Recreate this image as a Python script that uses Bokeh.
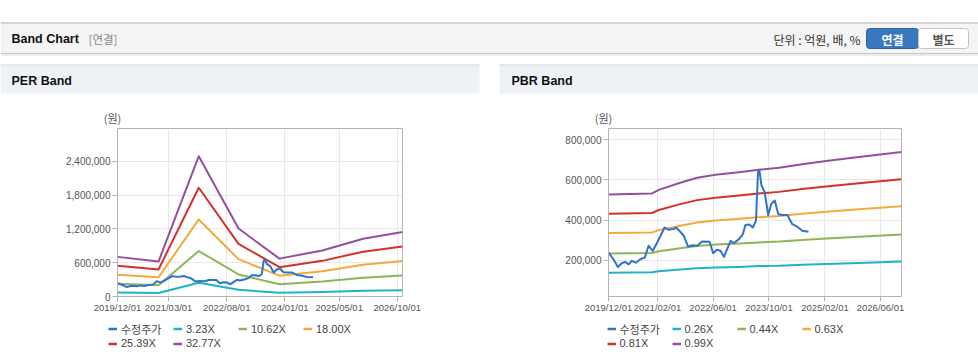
import pandas as pd
from bokeh.plotting import figure
from bokeh.layouts import row, column
from bokeh.models import (Range1d, FixedTicker, DatetimeTickFormatter, NumeralTickFormatter,
                          Label, BoxAnnotation, Legend, LegendItem, ColumnDataSource)
from bokeh.embed import file_html
from bokeh.resources import INLINE

# ---------------- data ----------------
SERIES_NAMES_PER = ["수정주가", "3.23X", "10.62X", "18.00X", "25.39X", "32.77X"]
SERIES_NAMES_PBR = ["수정주가", "0.26X", "0.44X", "0.63X", "0.81X", "0.99X"]

PRICE_DATES = ["2019-12-01", "2020-01-13", "2020-02-21", "2020-03-25", "2020-04-25", "2020-05-25",
               "2020-06-21", "2020-07-28", "2020-09-03", "2020-10-13", "2020-11-15", "2020-12-21",
               "2021-02-06", "2021-04-03", "2021-05-06", "2021-06-21", "2021-07-13", "2021-08-18",
               "2021-09-18", "2021-10-25", "2021-12-01", "2022-01-13", "2022-02-25", "2022-05-01",
               "2022-06-01", "2022-07-04", "2022-08-04", "2022-09-04", "2022-10-01", "2022-11-01",
               "2022-11-28", "2023-01-13", "2023-02-15", "2023-03-10", "2023-04-13", "2023-05-13",
               "2023-06-10", "2023-06-28", "2023-07-10", "2023-07-28", "2023-08-25", "2023-09-25",
               "2023-10-21", "2023-11-21", "2023-12-21", "2024-01-25", "2024-03-10", "2024-04-21",
               "2024-06-04", "2024-07-18", "2024-09-10"]
PRICE_VALUES = [238000, 205000, 167000, 185000, 192000, 180000, 197000, 188000, 205000, 213000,
                272000, 247000, 297000, 363000, 352000, 355000, 363000, 342000, 322000, 268000,
                275000, 272000, 293000, 292000, 235000, 252000, 247000, 217000, 255000, 297000,
                285000, 305000, 330000, 375000, 378000, 363000, 397000, 638000, 647000, 572000,
                538000, 425000, 480000, 497000, 430000, 425000, 425000, 380000, 367000, 347000,
                342000]

PER_BAND_DATES = ["2019-12-01", "2020-12-01", "2021-11-25", "2022-11-15", "2023-11-15",
                  "2024-12-01", "2025-12-01", "2026-11-17"]
PER_323 = [69300, 61000, 245300, 118900, 66200, 80400, 101100, 112700]
PER_1062 = [227800, 200700, 806600, 390800, 217700, 264400, 332400, 370600]
PER_1800 = [386100, 340200, 1367100, 662400, 369000, 448200, 563400, 628200]
PER_2539 = [544600, 479900, 1928400, 934400, 520500, 632200, 794700, 886100]
PER_3277 = [702900, 619400, 2488900, 1205900, 671800, 816000, 1025700, 1143700]

PBR_BAND_DATES = ["2019-12-01", "2020-12-15", "2021-02-12", "2021-08-18", "2022-01-13",
                  "2022-06-21", "2023-01-13", "2023-07-04", "2023-12-28", "2024-07-18",
                  "2025-02-10", "2025-11-25", "2026-12-01"]
PBR_026 = [138000, 140000, 145000, 154000, 160000, 164000, 167000, 171000, 173000, 178000, 182000, 187000, 194000]
PBR_044 = [234000, 236000, 245000, 260000, 271000, 278000, 283000, 289000, 293000, 301000, 308000, 317000, 328000]
PBR_063 = [335000, 338000, 350000, 372000, 388000, 398000, 406000, 414000, 420000, 431000, 441000, 454000, 469000]
PBR_081 = [431000, 435000, 450000, 479000, 499000, 511000, 522000, 532000, 540000, 554000, 567000, 583000, 603000]
PBR_099 = [527000, 532000, 550000, 585000, 610000, 625000, 638000, 650000, 660000, 677000, 693000, 713000, 738000]

PER_X_TICKS = ["2019/12/01", "2021/03/01", "2022/08/01", "2024/01/01", "2025/05/01", "2026/10/01"]
PBR_X_TICKS = ["2019/12/01", "2021/02/01", "2022/06/01", "2023/10/01", "2025/02/01", "2026/06/01"]
PER_Y_TICKS = [0, 600000, 1200000, 1800000, 2400000]
PBR_Y_TICKS = [200000, 400000, 600000, 800000]

COLORS = ["#3173c6", "#1db4c8", "#8fb556", "#f5a93c", "#d3312d", "#92509d"]

PAGE_W = 978
HEAD_H = 127
CHART_H = 193
LEG_H = 44
HALF_W = 489


def to_dt(lst):
    return pd.to_datetime(lst)


def to_ms(lst):
    return [int(pd.Timestamp(s.replace("/", "-")).value // 10**6) for s in lst]


def strip(width, height, flip=True):
    f = figure(width=width, height=height, x_range=Range1d(0, width),
               y_range=Range1d(height, 0) if flip else Range1d(0, height),
               output_backend="svg", toolbar_location=None, title=None,
               x_axis_location=None, y_axis_location=None, min_border=0)
    f.grid.visible = False
    f.outline_line_color = None
    f.background_fill_color = "white"
    f.border_fill_color = "white"
    return f


# ---------------- header strip (1 unit = 1 px) ----------------
head = strip(PAGE_W, HEAD_H)


def hbox(l, r, t, b, fill, line=None, radius=0):
    head.add_layout(BoxAnnotation(left=l, right=r, top=t, bottom=b,
                                  fill_color=fill, fill_alpha=1.0,
                                  line_color=line if line else fill,
                                  line_alpha=1.0 if line else 0.0, line_width=1,
                                  border_radius=radius))


def hlabel(x, y, text, size="12px", color="#333333", font="Liberation Sans",
           style="normal", align="left"):
    head.add_layout(Label(x=x, y=y, text=text, text_font=font, text_font_size=size,
                          text_color=color, text_font_style=style, text_align=align,
                          text_baseline="middle"))


hbox(0, PAGE_W, 22, 53, "#f4f4f4")
hbox(0, PAGE_W, 22, 23, "#b4b4b4")
hbox(0, PAGE_W, 52.5, 53.5, "#c6c6c6")
hbox(0, PAGE_W, 53.5, 55.5, "#ececec")
hbox(0, 479, 64, 93, "#eef2f6")
hbox(0, 479, 64, 65, "#d6d9dd")
hbox(499, PAGE_W, 64, 93, "#eef2f6")
hbox(499, PAGE_W, 64, 65, "#d6d9dd")
hbox(866, 918, 28, 48, "#3a77c1", line="#2d65ab", radius=3)
hbox(918, 968, 28, 48, "#ffffff", line="#c4c4c4", radius=3)
hlabel(11, 38.5, "Band Chart", size="12.5px", color="#111111", style="bold")
hlabel(88, 38.5, "[연결]", size="11.5px", color="#8a8a8a", font="Noto Sans CJK KR")
hlabel(860, 39, "단위 : 억원, 배, %", size="12px", color="#333333", font="Noto Sans CJK KR", align="right")
hlabel(892, 38.5, "연결", size="12px", color="#ffffff", font="Noto Sans CJK KR", style="bold", align="center")
hlabel(943, 38.5, "별도", size="12px", color="#555555", font="Noto Sans CJK KR", style="bold", align="center")
hlabel(11, 80.5, "PER Band", size="12.5px", color="#111111", style="bold")
hlabel(511, 80.5, "PBR Band", size="12.5px", color="#111111", style="bold")
hlabel(112, 117.5, "(원)", size="11px", color="#555555", font="Noto Sans CJK KR", align="center")
hlabel(603, 117.5, "(원)", size="11px", color="#555555", font="Noto Sans CJK KR", align="center")


# ---------------- chart panels ----------------
def make_panel(x_range, y_range, x_ticks, y_ticks, border_left, border_right):
    p = figure(width=HALF_W, height=CHART_H, x_axis_type="datetime",
               x_range=Range1d(*to_dt(x_range)), y_range=Range1d(*y_range),
               output_backend="svg", toolbar_location=None, title=None,
               min_border_left=border_left, min_border_right=border_right,
               min_border_top=1, min_border_bottom=24)
    p.xaxis.ticker = FixedTicker(ticks=to_ms(x_ticks))
    fmt = "%Y/%m/%d"
    p.xaxis.formatter = DatetimeTickFormatter(days=fmt, months=fmt, years=fmt, hours=fmt,
                                              hourmin=fmt, minutes=fmt, minsec=fmt,
                                              seconds=fmt, milliseconds=fmt, microseconds=fmt)
    p.yaxis.ticker = FixedTicker(ticks=y_ticks)
    p.yaxis.formatter = NumeralTickFormatter(format="0,0")
    for ax in (p.xaxis, p.yaxis):
        ax.axis_line_color = "#b4b4b4"
        ax.major_tick_line_color = "#b4b4b4"
        ax.major_tick_out = 5
        ax.major_tick_in = 0
        ax.minor_tick_out = 0
        ax.minor_tick_in = 0
        ax.major_label_text_color = "#555555"
        ax.major_label_text_font = "Liberation Sans"
    p.xaxis.major_label_text_font_size = "9.5px"
    p.yaxis.major_label_text_font_size = "10px"
    p.xaxis.major_label_standoff = 0
    p.yaxis.major_label_standoff = 2
    p.xgrid.grid_line_color = "#e8e8e8"
    p.ygrid.grid_line_color = "#e8e8e8"
    p.outline_line_color = "#b4b4b4"
    p.background_fill_color = "white"
    p.border_fill_color = "white"
    return p


def add_series(p, band_dates, bands):
    for vals, col in zip(bands, COLORS[1:]):
        src = ColumnDataSource(dict(x=to_dt(band_dates), y=vals))
        p.line("x", "y", source=src, line_color=col, line_width=2, line_join="round")
    src = ColumnDataSource(dict(x=to_dt(PRICE_DATES), y=PRICE_VALUES))
    p.line("x", "y", source=src, line_color=COLORS[0], line_width=2, line_join="round")


per = make_panel(("2019-12-01", "2026-11-17"), (0, 2980000), PER_X_TICKS, PER_Y_TICKS, 117, 87)
add_series(per, PER_BAND_DATES, [PER_323, PER_1062, PER_1800, PER_2539, PER_3277])

pbr = make_panel(("2019-12-01", "2026-12-01"), (20000, 855000), PBR_X_TICKS, PBR_Y_TICKS, 119, 77)
add_series(pbr, PBR_BAND_DATES, [PBR_026, PBR_044, PBR_063, PBR_081, PBR_099])

# ---------------- legend strip (swatch renderers carry no visible point) ----------------
leg = strip(PAGE_W, LEG_H, flip=False)
NAN = float("nan")
swatches = [leg.line(x=[NAN, NAN], y=[NAN, NAN], line_color=c, line_width=2.5) for c in COLORS]


def add_legend(names, loc):
    leg.add_layout(Legend(items=[LegendItem(label=n, renderers=[r]) for n, r in zip(names, swatches)],
                          location=loc, orientation="horizontal", ncols=4,
                          glyph_width=9, glyph_height=13, label_width=52, label_height=13,
                          label_standoff=4, spacing=0, padding=0, margin=0,
                          border_line_color=None, background_fill_alpha=0.0,
                          label_text_font="Liberation Sans, Noto Sans CJK KR",
                          label_text_font_size="11px",
                          label_text_color="#444444"))


add_legend(SERIES_NAMES_PER, (108, 14.5))
add_legend(SERIES_NAMES_PBR, (606.5, 14.5))

layout = column(head, row(per, pbr, spacing=0), leg, spacing=0)
open("out.html", "w").write(file_html(layout, INLINE))
